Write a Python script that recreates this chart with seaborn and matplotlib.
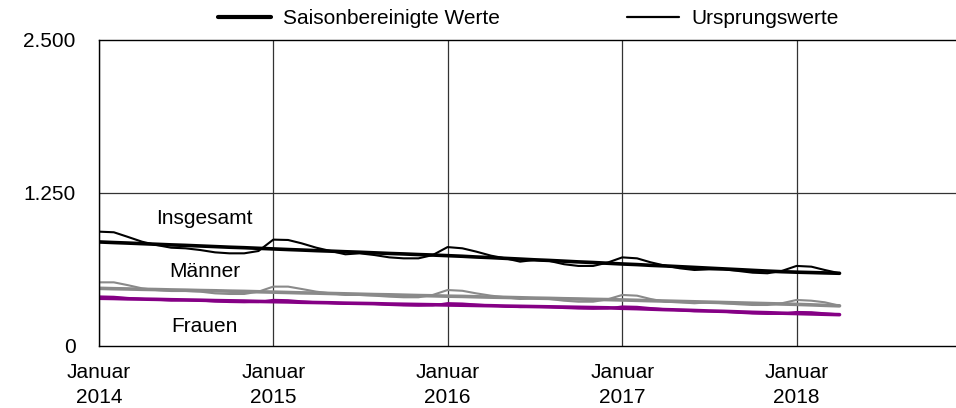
import numpy as np
import pandas as pd
import matplotlib
matplotlib.use("Agg")
import matplotlib.pyplot as plt
from matplotlib.lines import Line2D
from matplotlib.ticker import FuncFormatter
import seaborn as sns

# monthly values, January 2014 to April 2018
months = pd.date_range("2014-01-01", "2018-04-01", freq="MS")

insgesamt_sa = [850, 845, 841, 836, 831, 826, 822, 817, 812, 807, 803, 798,
                793, 788, 784, 779, 775, 770, 766, 761, 756, 752, 747, 743,
                738, 733, 727, 722, 716, 710, 704, 699, 693, 687, 682, 676,
                670, 665, 659, 654, 648, 642, 636, 630, 624, 618, 612, 607,
                603, 600, 597, 594]
insgesamt_orig = [934, 929, 893, 852, 825, 803, 798, 784, 765, 757, 757, 776,
                  869, 866, 839, 803, 776, 749, 757, 743, 724, 716, 716, 743,
                  808, 798, 771, 738, 716, 689, 703, 695, 668, 654, 654, 681,
                  724, 716, 684, 656, 635, 621, 626, 626, 613, 599, 594, 613,
                  654, 648, 621, 594]
maenner_sa = [471, 468, 466, 463, 461, 458, 456, 453, 451, 448, 446, 443,
              440, 437, 434, 432, 429, 426, 423, 420, 418, 415, 412, 410,
              407, 405, 402, 399, 397, 394, 391, 389, 386, 384, 381, 379,
              376, 373, 370, 367, 364, 361, 358, 355, 352, 349, 346, 343,
              340, 336, 332, 328]
maenner_orig = [520, 520, 498, 471, 457, 449, 449, 444, 430, 425, 425, 444,
                485, 485, 466, 444, 430, 417, 417, 411, 403, 398, 398, 417,
                457, 451, 430, 411, 398, 384, 390, 384, 370, 362, 362, 381,
                417, 411, 384, 362, 357, 349, 357, 349, 341, 335, 335, 349,
                376, 370, 357, 329]
frauen_sa = [390, 388, 385, 383, 381, 378, 376, 374, 371, 369, 367, 364,
             362, 360, 357, 355, 353, 350, 348, 346, 343, 341, 339, 337,
             335, 333, 331, 329, 326, 324, 322, 320, 318, 316, 314, 312,
             308, 305, 301, 297, 294, 290, 286, 283, 279, 275, 272, 268,
             265, 262, 259, 256]
frauen_orig = [405, 402, 393, 385, 378, 372, 374, 371, 363, 359, 357, 359,
               377, 374, 365, 357, 350, 344, 346, 343, 335, 331, 329, 332,
               350, 347, 339, 331, 323, 318, 320, 317, 310, 306, 304, 307,
               323, 320, 310, 300, 291, 284, 284, 280, 271, 265, 262, 263,
               278, 276, 267, 258]

group_labels = ["Insgesamt", "Männer", "Frauen"]
label_values = [1040, 605, 163]
year_ticks = ["2014", "2015", "2016", "2017", "2018"]

sns.set_theme(style="white")
plt.rcParams["font.family"] = ["Liberation Sans", "DejaVu Sans"]
plt.rcParams["text.color"] = "black"

fig, ax = plt.subplots(figsize=(9.56, 4.08), dpi=100)
fig.subplots_adjust(left=0.1036, right=1.0, bottom=0.152, top=0.902)

black, gray, purple = "#000000", "#8a8a8a", "#850085"
series = [
    (maenner_orig, gray, 1.5), (maenner_sa, gray, 2.6),
    (frauen_orig, purple, 1.5), (frauen_sa, purple, 2.6),
    (insgesamt_orig, black, 1.5), (insgesamt_sa, black, 2.6),
]
for vals, col, lw in series:
    sns.lineplot(x=months, y=vals, color=col, linewidth=lw, ax=ax)

ax.set_ylim(0, 2500)
ax.set_yticks([0, 1250, 2500])
ax.yaxis.set_major_formatter(FuncFormatter(lambda v, p: f"{int(v):,}".replace(",", ".")))
ax.set_xlim(pd.Timestamp("2014-01-01"), pd.Timestamp("2018-12-01"))
xt = [pd.Timestamp(f"{y}-01-01") for y in year_ticks]
ax.set_xticks(xt)
ax.set_xticklabels([f"Januar\n{y}" for y in year_ticks], linespacing=1.45)
ax.tick_params(axis="both", labelsize=15, length=0, colors="black")
ax.tick_params(axis="x", pad=12)
ax.tick_params(axis="y", pad=17)
ax.set_xlabel("")
ax.set_ylabel("")

for t in xt:
    ax.axvline(t, color="#333333", lw=0.9, zorder=0)
ax.axhline(1250, color="#333333", lw=0.9, zorder=0)
for s in ["left", "bottom", "top"]:
    ax.spines[s].set_color("black")
    ax.spines[s].set_linewidth(1.0)
ax.spines["right"].set_visible(False)

for lab, v in zip(group_labels, label_values):
    ax.text(pd.Timestamp("2014-08-10"), v, lab, fontsize=15, color="black",
            ha="center", va="center")

handles = [Line2D([], [], color="black", lw=3.0), Line2D([], [], color="black", lw=1.6)]
fig.legend(handles, ["Saisonbereinigte Werte", "Ursprungswerte"], loc="center",
           bbox_to_anchor=(0.553, 0.955), ncol=2, frameon=False, fontsize=15,
           handlelength=2.5, columnspacing=6.1, handletextpad=0.6,
           labelcolor="black")

fig.savefig("out.png", dpi=100)
